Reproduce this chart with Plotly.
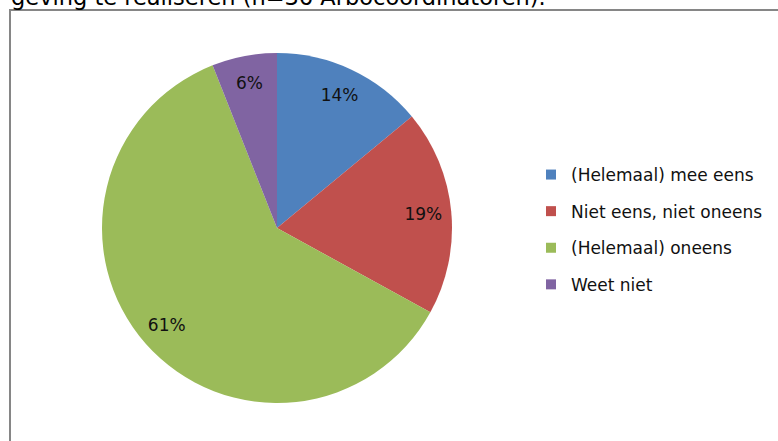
import plotly.graph_objects as go

# answer categories and shares (%) as printed on the slices
categories = ["(Helemaal) mee eens", "Niet eens, niet oneens", "(Helemaal) oneens", "Weet niet"]
shares = [14, 19, 61, 6]
colors = ["#4F81BD", "#C0504D", "#9BBB59", "#8064A2"]

caption = "geving te realiseren (n=36 Arbocoordinatoren)."

W, H = 778, 441
pie_domain = dict(x=[101 / W, 453 / W], y=[(H - 403) / H, (H - 53) / H])

fig = go.Figure()

# the coloured slices
fig.add_trace(go.Pie(
    labels=categories,
    values=shares,
    sort=False,
    direction="clockwise",
    rotation=0,
    marker=dict(colors=colors, line=dict(width=0)),
    textinfo="none",
    domain=pie_domain,
    showlegend=False,
    hoverinfo="label+percent",
))

# transparent ring on top, only to put the % labels out towards the rim
fig.add_trace(go.Pie(
    labels=categories,
    values=shares,
    sort=False,
    direction="clockwise",
    rotation=0,
    hole=0.68,
    marker=dict(colors=["rgba(0,0,0,0)"] * len(shares), line=dict(width=0)),
    texttemplate="%{percent:.0%}",
    textposition="inside",
    insidetextorientation="horizontal",
    textfont=dict(family="DejaVu Sans", size=17, color="#111111"),
    domain=pie_domain,
    showlegend=False,
    hoverinfo="skip",
))

# legend entries, one group each so the spacing can be opened up
for name, col in zip(categories, colors):
    fig.add_trace(go.Scatter(
        x=[None], y=[None],
        mode="markers",
        name=name,
        legendgroup=name,
        marker=dict(symbol="square", size=10, color=col),
    ))

fig.update_layout(
    width=W, height=H,
    margin={"r": 0, "t": 0, "l": 0, "b": 0},
    paper_bgcolor="white",
    plot_bgcolor="white",
    xaxis=dict(visible=False, showgrid=False, showline=False),
    yaxis=dict(visible=False, showgrid=False, showline=False),
    legend=dict(
        x=531 / W, xanchor="left",
        y=(H - 157) / H, yanchor="top",
        tracegroupgap=11.5,
        font=dict(family="DejaVu Sans", size=17, color="#111111"),
        bgcolor="rgba(0,0,0,0)",
    ),
    shapes=[dict(
        type="rect", xref="paper", yref="paper",
        x0=10 / W, x1=800 / W, y0=-20 / H, y1=(H - 10) / H,
        line=dict(color="#868686", width=2),
        layer="below",
    )],
    annotations=[dict(
        text=caption, xref="paper", yref="paper",
        x=9 / W, y=(H - 12) / H, xanchor="left", yanchor="bottom",
        showarrow=False,
        font=dict(family="DejaVu Sans", size=22.5, color="black"),
    )],
)

fig.write_html(
    "out.html",
    config={"displayModeBar": False},
    post_script="document.body.style.margin='0';",
)
